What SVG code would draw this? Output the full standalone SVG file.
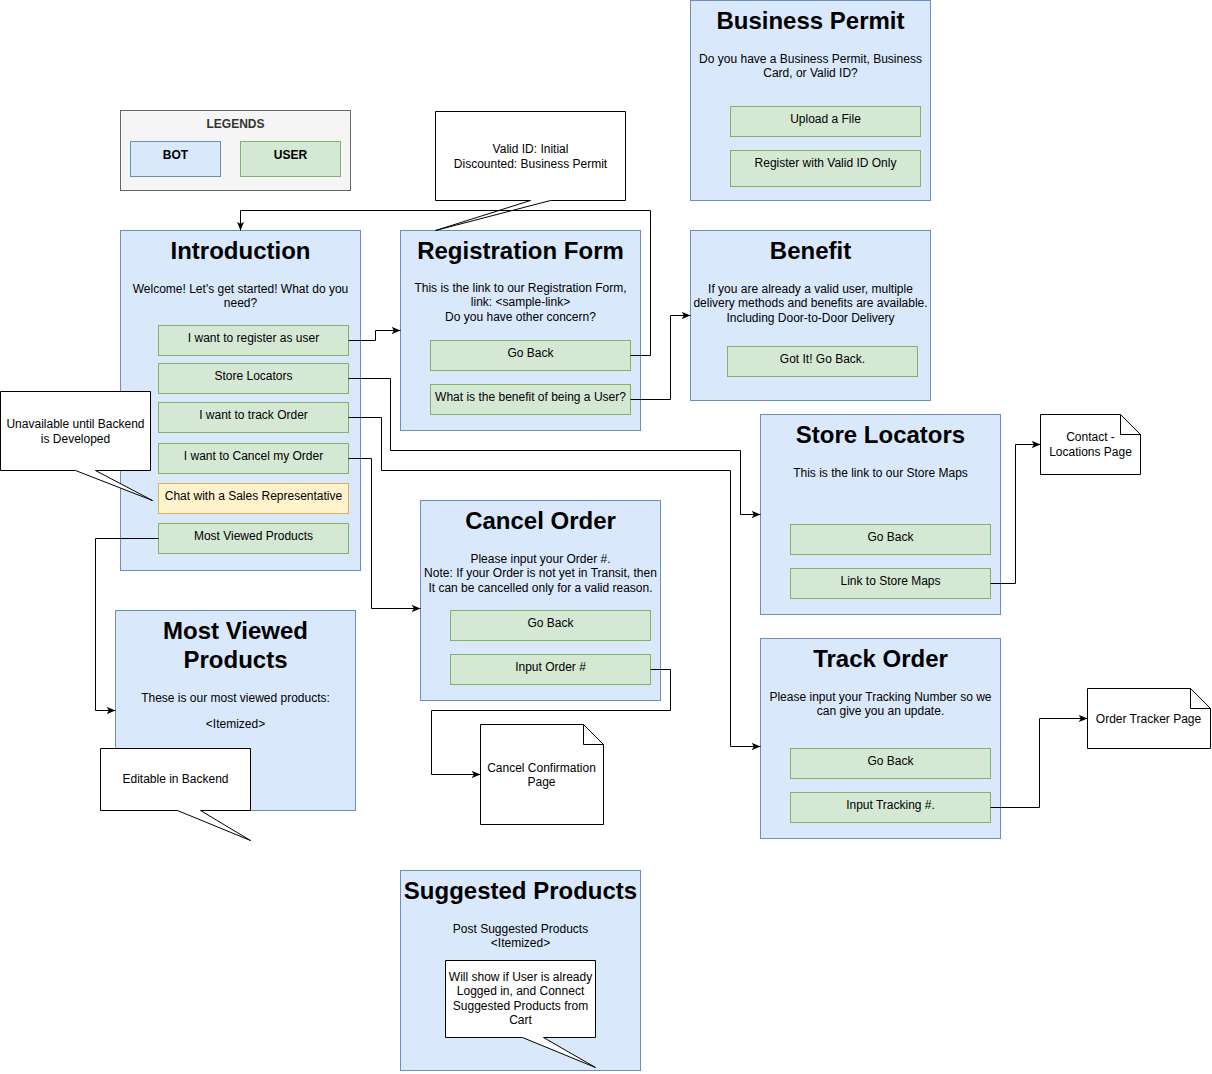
<svg xmlns="http://www.w3.org/2000/svg" width="1212" height="1074" viewBox="0 0 1212 1074">
<defs>
<style>
text{font-family:"Liberation Sans",Arial,Helvetica,sans-serif;font-size:12px;fill:#000;text-anchor:middle}
.t{font-size:24px;font-weight:bold}
.b{font-weight:bold}
.bot{fill:#dae8fc;stroke:#6c8ebf;stroke-width:1}
.usr{fill:#d5e8d4;stroke:#82b366;stroke-width:1}
.ylw{fill:#fff2cc;stroke:#d6b656;stroke-width:1}
.leg{fill:#f5f5f5;stroke:#666666;stroke-width:1}
.wht{fill:#ffffff;stroke:#000000;stroke-width:1}
.ln{fill:none;stroke:#000000;stroke-width:1}
.edge{fill:none;stroke:#000000;stroke-width:1;marker-end:url(#arr)}
</style>
<marker id="arr" viewBox="0 0 10 8" refX="10" refY="4" markerWidth="9" markerHeight="7" markerUnits="userSpaceOnUse" orient="auto">
<path d="M0,0 L10,4 L0,8 L2.5,4 Z" fill="#000"/>
</marker>
</defs>
<rect x="0" y="0" width="1212" height="1074" fill="#ffffff"/>
<g transform="translate(0.5,0.5)">

<g id="legends">
<rect class="leg" x="120" y="110" width="230" height="80"/>
<text x="235" y="127" class="b" style="fill:#333333">LEGENDS</text>
<rect class="bot" x="130" y="141" width="90" height="35"/>
<text x="175" y="158" class="b">BOT</text>
<rect class="usr" x="240" y="141" width="100" height="35"/>
<text x="290" y="158" class="b">USER</text>
</g>

<g id="introduction">
<rect class="bot" x="120" y="230" width="240" height="340"/>
<text x="240" y="258" class="t">Introduction</text>
<text x="240" y="292">Welcome! Let's get started! What do you</text>
<text x="240" y="306">need?</text>
<rect class="usr" x="158" y="325" width="190" height="30"/>
<text x="253" y="341">I want to register as user</text>
<rect class="usr" x="158" y="363" width="190" height="30"/>
<text x="253" y="379">Store Locators</text>
<rect class="usr" x="158" y="402" width="190" height="30"/>
<text x="253" y="418">I want to track Order</text>
<rect class="usr" x="158" y="443" width="190" height="30"/>
<text x="253" y="459">I want to Cancel my Order</text>
<rect class="ylw" x="158" y="483" width="190" height="30"/>
<text x="253" y="499">Chat with a Sales Representative</text>
<rect class="usr" x="158" y="523" width="190" height="30"/>
<text x="253" y="539">Most Viewed Products</text>
</g>

<g id="callout-unavailable">
<path class="wht" d="M0,391 H150 V470 H95 L152,500 L75,470 H0 Z"/>
<text x="75" y="427">Unavailable until Backend</text>
<text x="75" y="442">is Developed</text>
</g>

<g id="registration-form">
<rect class="bot" x="400" y="230" width="240" height="200"/>
<text x="520" y="258" class="t">Registration Form</text>
<text x="520" y="291">This is the link to our Registration Form,</text>
<text x="520" y="305">link: &lt;sample-link&gt;</text>
<text x="520" y="320">Do you have other concern?</text>
<rect class="usr" x="430" y="340" width="200" height="30"/>
<text x="530" y="356">Go Back</text>
<rect class="usr" x="430" y="384" width="200" height="30"/>
<text x="530" y="400">What is the benefit of being a User?</text>
</g>

<g id="callout-validid">
<path class="wht" d="M435,111 H625 V200 H550 L435,230 L530,200 H435 Z"/>
<text x="530" y="152">Valid ID: Initial</text>
<text x="530" y="167">Discounted: Business Permit</text>
</g>

<g id="business-permit">
<rect class="bot" x="690" y="0" width="240" height="200"/>
<text x="810" y="28" class="t">Business Permit</text>
<text x="810" y="62">Do you have a Business Permit, Business</text>
<text x="810" y="76">Card, or Valid ID?</text>
<rect class="usr" x="730" y="106" width="190" height="30"/>
<text x="825" y="122">Upload a File</text>
<rect class="usr" x="730" y="150" width="190" height="36"/>
<text x="825" y="166">Register with Valid ID Only</text>
</g>

<g id="benefit">
<rect class="bot" x="690" y="230" width="240" height="170"/>
<text x="810" y="258" class="t">Benefit</text>
<text x="810" y="292">If you are already a valid user, multiple</text>
<text x="810" y="306">delivery methods and benefits are available.</text>
<text x="810" y="321">Including Door-to-Door Delivery</text>
<rect class="usr" x="727" y="346" width="190" height="30"/>
<text x="822" y="362">Got It! Go Back.</text>
</g>

<g id="store-locators">
<rect class="bot" x="760" y="414" width="240" height="200"/>
<text x="880" y="442" class="t">Store Locators</text>
<text x="880" y="476">This is the link to our Store Maps</text>
<rect class="usr" x="790" y="524" width="200" height="30"/>
<text x="890" y="540">Go Back</text>
<rect class="usr" x="790" y="568" width="200" height="30"/>
<text x="890" y="584">Link to Store Maps</text>
</g>

<g id="contact-locations-page">
<path class="wht" d="M1040,414 H1120 L1140,434 V474 H1040 Z"/>
<path class="ln" d="M1120,414 V434 H1140"/>
<text x="1090" y="440">Contact -</text>
<text x="1090" y="455">Locations Page</text>
</g>

<g id="cancel-order">
<rect class="bot" x="420" y="500" width="240" height="200"/>
<text x="540" y="528" class="t">Cancel Order</text>
<text x="540" y="562">Please input your Order #.</text>
<text x="540" y="576">Note: If your Order is not yet in Transit, then</text>
<text x="540" y="591">It can be cancelled only for a valid reason.</text>
<rect class="usr" x="450" y="610" width="200" height="30"/>
<text x="550" y="626">Go Back</text>
<rect class="usr" x="450" y="654" width="200" height="30"/>
<text x="550" y="670">Input Order #</text>
</g>

<g id="cancel-confirmation-page">
<path class="wht" d="M480,724 H583 L603,744 V824 H480 Z"/>
<path class="ln" d="M583,724 V744 H603"/>
<text x="541" y="771">Cancel Confirmation</text>
<text x="541" y="785">Page</text>
</g>

<g id="track-order">
<rect class="bot" x="760" y="638" width="240" height="200"/>
<text x="880" y="666" class="t">Track Order</text>
<text x="880" y="700">Please input your Tracking Number so we</text>
<text x="880" y="714">can give you an update.</text>
<rect class="usr" x="790" y="748" width="200" height="30"/>
<text x="890" y="764">Go Back</text>
<rect class="usr" x="790" y="792" width="200" height="30"/>
<text x="890" y="808">Input Tracking #.</text>
</g>

<g id="order-tracker-page">
<path class="wht" d="M1087,688 H1190 L1210,708 V748 H1087 Z"/>
<path class="ln" d="M1190,688 V708 H1210"/>
<text x="1148" y="722">Order Tracker Page</text>
</g>

<g id="most-viewed-products">
<rect class="bot" x="115" y="610" width="240" height="200"/>
<text x="235" y="638" class="t">Most Viewed</text>
<text x="235" y="667" class="t">Products</text>
<text x="235" y="701">These is our most viewed products:</text>
<text x="235" y="727">&lt;Itemized&gt;</text>
</g>

<g id="callout-editable">
<path class="wht" d="M100,748 H250 V810 H200 L250,840 L177,810 H100 Z"/>
<text x="175" y="782">Editable in Backend</text>
</g>

<g id="suggested-products">
<rect class="bot" x="400" y="870" width="240" height="200"/>
<text x="520" y="898" class="t">Suggested Products</text>
<text x="520" y="932">Post Suggested Products</text>
<text x="520" y="946">&lt;Itemized&gt;</text>
</g>

<g id="callout-suggested">
<path class="wht" d="M445,960 H595 V1037 H543 L595,1067 L522,1037 H445 Z"/>
<text x="520" y="980">Will show if User is already</text>
<text x="520" y="994">Logged in, and Connect</text>
<text x="520" y="1009">Suggested Products from</text>
<text x="520" y="1023">Cart</text>
</g>

<g id="connectors">
<path class="edge" d="M348,340 H375 V330 H400"/>
<path class="edge" d="M630,355 H650 V210 H240 V230"/>
<path class="edge" d="M630,399 H670 V315 H690"/>
<path class="edge" d="M348,378 H390 V450 H740 V514 H760"/>
<path class="edge" d="M348,417 H381 V470 H730 V746 H760"/>
<path class="edge" d="M348,458 H371 V608 H420"/>
<path class="edge" d="M158,538 H95 V710 H115"/>
<path class="edge" d="M650,669 H670 V710 H431 V774 H480"/>
<path class="edge" d="M990,583 H1015 V444 H1040"/>
<path class="edge" d="M990,807 H1039 V718 H1087"/>
</g>

</g>
</svg>
